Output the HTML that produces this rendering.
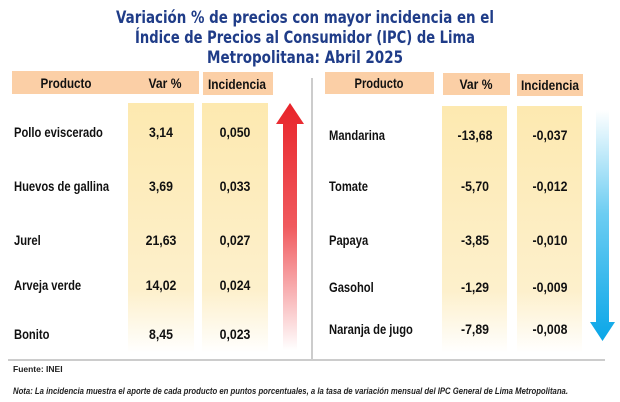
<!DOCTYPE html>
<html><head><meta charset="utf-8"><style>
body{margin:0;width:620px;height:402px;background:#fff;overflow:hidden}
svg{display:block}
text{font-family:"Liberation Sans",sans-serif}
text.ttl{font-family:"DejaVu Sans",sans-serif}
</style></head><body>
<svg id="s" width="620" height="402" xmlns="http://www.w3.org/2000/svg">
<defs>
<linearGradient id="colg" x1="0" y1="0" x2="0" y2="1">
<stop offset="0" stop-color="#fde9b0"/><stop offset="0.75" stop-color="#fdf0cc"/><stop offset="1" stop-color="#ffffff"/></linearGradient>
<linearGradient id="redg" x1="0" y1="0" x2="0" y2="1">
<stop offset="0" stop-color="#e8242a"/><stop offset="0.5" stop-color="#f05a5e"/><stop offset="1" stop-color="#ffffff"/></linearGradient>
<linearGradient id="blueg" x1="0" y1="0" x2="0" y2="1">
<stop offset="0" stop-color="#ffffff"/><stop offset="0.45" stop-color="#6ccdf2"/><stop offset="1" stop-color="#0aa6e8"/></linearGradient>
</defs>
<g fill="#1f3c88" font-weight="bold" font-size="17" text-anchor="middle">
<text class="ttl" x="305" y="23" textLength="378" lengthAdjust="spacingAndGlyphs">Variación % de precios con mayor incidencia en el</text>
<text class="ttl" x="305" y="43" textLength="340" lengthAdjust="spacingAndGlyphs">Índice de Precios al Consumidor (IPC) de Lima</text>
<text class="ttl" x="305" y="63" textLength="196" lengthAdjust="spacingAndGlyphs">Metropolitana: Abril 2025</text>
</g>
<g font-weight="bold" font-size="14" text-anchor="middle" fill="#111">
<rect x="12" y="71" width="120" height="23" fill="#fbcfa6"/>
<text x="66" y="88" textLength="51" lengthAdjust="spacingAndGlyphs">Producto</text>
<rect x="131" y="71" width="68" height="23" fill="#fbcfa6"/>
<text x="165" y="88" textLength="33" lengthAdjust="spacingAndGlyphs">Var %</text>
<rect x="203" y="72" width="70" height="23" fill="#fbcfa6"/>
<text x="237" y="89" textLength="58" lengthAdjust="spacingAndGlyphs">Incidencia</text>
<rect x="325" y="72" width="109" height="22" fill="#fbcfa6"/>
<text x="379" y="88" textLength="49" lengthAdjust="spacingAndGlyphs">Producto</text>
<rect x="443" y="73" width="67" height="22" fill="#fbcfa6"/>
<text x="476" y="89" textLength="33" lengthAdjust="spacingAndGlyphs">Var %</text>
<rect x="517" y="74" width="66" height="22" fill="#fbcfa6"/>
<text x="550" y="90" textLength="58" lengthAdjust="spacingAndGlyphs">Incidencia</text>
</g>
<rect x="128" y="103" width="66" height="250" fill="url(#colg)"/>
<rect x="202" y="103" width="66" height="250" fill="url(#colg)"/>
<rect x="442" y="106" width="65" height="247" fill="url(#colg)"/>
<rect x="517" y="106" width="65" height="247" fill="url(#colg)"/>
<path d="M276 124 L290 103 L304 124 L297 124 L297 350 L283 350 L283 124 Z" fill="url(#redg)"/>
<path d="M596 110 L609 110 L609 322 L615 322 L602.5 341 L590 322 L596 322 Z" fill="url(#blueg)"/>
<line x1="312" y1="78" x2="312" y2="360" stroke="#aaa" stroke-width="1.2"/>
<line x1="8" y1="360" x2="605" y2="360" stroke="#ccc" stroke-width="2"/>
<g id="rows" font-weight="bold" font-size="14" fill="#111"></g>
<text x="13" y="372" font-size="8.5" font-weight="bold" fill="#222">Fuente: INEI</text>
<text x="13" y="394" font-size="9.5" font-weight="bold" font-style="italic" fill="#222" textLength="555" lengthAdjust="spacingAndGlyphs">Nota: La incidencia muestra el aporte de cada producto en puntos porcentuales, a la tasa de variación mensual del IPC General de Lima Metropolitana.</text>
</svg>
<script>
const leftProducts=["Pollo eviscerado","Huevos de gallina","Jurel","Arveja verde","Bonito"];
const leftVar=["3,14","3,69","21,63","14,02","8,45"];
const leftInc=["0,050","0,033","0,027","0,024","0,023"];
const rightProducts=["Mandarina","Tomate","Papaya","Gasohol","Naranja  de jugo"];
const rightVar=["-13,68","-5,70","-3,85","-1,29","-7,89"];
const rightInc=["-0,037","-0,012","-0,010","-0,009","-0,008"];
const g=document.getElementById('rows');
const NS="http://www.w3.org/2000/svg";
const leftY=[137,191,245,290,339], rightY=[140,191,245,292,334];
function t(x,y,s,anchor,sx){const e=document.createElementNS(NS,'text');
e.setAttribute('transform','translate('+x+','+y+') scale('+sx+',1)');
e.setAttribute('text-anchor',anchor);
e.setAttribute('xml:space','preserve');
e.textContent=s;


g.appendChild(e);}
leftProducts.forEach((p,i)=>{const y=leftY[i];
t(14,y,p,'start',0.8);
t(161,y,leftVar[i],'middle',0.88);
t(235,y,leftInc[i],'middle',0.88);});
rightProducts.forEach((p,i)=>{const y=rightY[i];
t(329,y,p,'start',0.8);
t(475,y,rightVar[i],'middle',0.88);
t(550,y,rightInc[i],'middle',0.88);});
</script>
</body></html>
